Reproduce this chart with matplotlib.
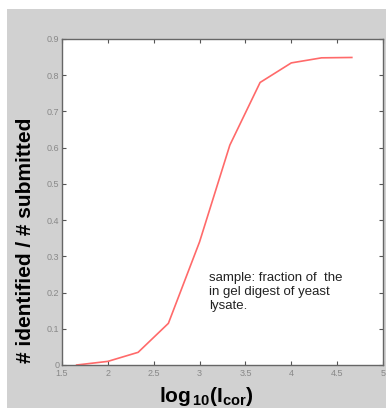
import numpy as np
import matplotlib
matplotlib.use("Agg")
import matplotlib.pyplot as plt
from matplotlib.patches import Rectangle

# values
log_icor = [1.66, 2.0, 2.33, 2.66, 3.0, 3.33, 3.66, 4.0, 4.33, 4.66]
fraction = [0.0, 0.01, 0.035, 0.115, 0.34, 0.607, 0.78, 0.834, 0.848, 0.849]
xticks = [1.5, 2, 2.5, 3, 3.5, 4, 4.5, 5]
xticklabels = ["1.5", "2", "2.5", "3", "3.5", "4", "4.5", "5"]
yticks = [0, 0.1, 0.2, 0.3, 0.4, 0.5, 0.6, 0.7, 0.8, 0.9]
yticklabels = ["0", "0.1", "0.2", "0.3", "0.4", "0.5", "0.6", "0.7", "0.8", "0.9"]

plt.rcParams["font.family"] = ["Liberation Sans", "DejaVu Sans"]
plt.rcParams["mathtext.fontset"] = "custom"
plt.rcParams["mathtext.rm"] = "Liberation Sans"
plt.rcParams["mathtext.bf"] = "Liberation Sans:bold"

W, H = 386, 408
fig = plt.figure(figsize=(W / 100, H / 100), dpi=100)
fig.patch.set_facecolor("white")
# grey panel behind the axes
fig.patches.append(Rectangle((7 / W, 0), 1 - 7 / W, (H - 9) / H,
                             transform=fig.transFigure, facecolor="#d1d1d1",
                             edgecolor="none", zorder=-10))

ax = fig.add_axes([62 / W, (H - 365) / H, (383 - 62) / W, (365 - 39) / H])
ax.set_facecolor("white")
ax.plot(log_icor, fraction, color="#ff6a6a", lw=1.2)

ax.set_xlim(1.5, 5)
ax.set_ylim(0, 0.9)
ax.set_xticks(xticks)
ax.set_xticklabels(xticklabels)
ax.set_yticks(yticks)
ax.set_yticklabels(yticklabels)
ax.tick_params(direction="in", top=True, right=True, length=3, width=0.8,
               color="#555555", labelsize=6.5, labelcolor="#888888", pad=2)
ax.tick_params(axis="x", pad=3)
for s in ax.spines.values():
    s.set_color("#666666")
    s.set_linewidth(1.0)

fig.text(206 / W, 1 - 396 / H, r"$\mathbf{log_{\,10}(I_{cor})}$", fontsize=15,
         ha="center", va="center")
fig.text(26 / W, 1 - 240 / H, "# identified / # submitted", fontsize=15,
         fontweight="bold", rotation=90, ha="center", va="center")

ax.text(3.10, 0.256, "sample: fraction of  the\nin gel digest of yeast\nlysate.",
        fontsize=9.5, color="#222222", va="top", ha="left", linespacing=1.2)

fig.savefig("out.png", dpi=100, facecolor=fig.get_facecolor())
